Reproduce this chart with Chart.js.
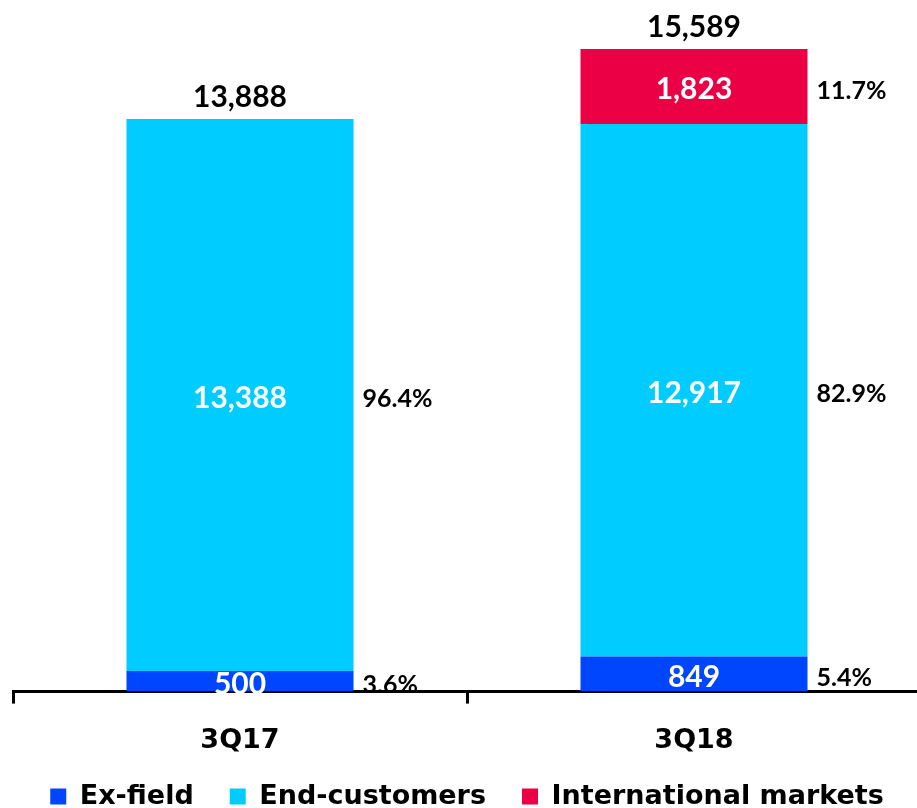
<!DOCTYPE html>
<html>
<head>
<meta charset="utf-8">
<script src="https://cdn.jsdelivr.net/npm/chart.js@4"></script>
<style>
  html, body { margin: 0; padding: 0; background: #fff; overflow: hidden; }
  #wrap { width: 925px; height: 808px; }
</style>
</head>
<body>
<div id="wrap"><canvas id="salesChart"></canvas></div>
<script>
const quarters = ['3Q17', '3Q18'];
const exField = [500, 849];
const endCustomers = [13388, 12917];
const intlMarkets = [0, 1823];

const NUM_FONT = 'Lato, "DejaVu Sans", sans-serif';
const TXT_FONT = '"DejaVu Sans", sans-serif';

function fmt(n) {
    return n.toLocaleString('en-US');
}

// подписи: значения внутри, проценты справа, сумма сверху
const labelsPlugin = {
    id: 'barLabels',
    afterDatasetsDraw(chart) {
        const ctx = chart.ctx;
        const sets = chart.data.datasets;
        ctx.save();
        ctx.textBaseline = 'middle';
        quarters.forEach((q, i) => {
            let total = 0;
            sets.forEach(ds => total += ds.data[i]);
            let topY = null, cx = 0;
            sets.forEach((ds, d) => {
                const v = ds.data[i];
                if (!v) return;
                const bar = chart.getDatasetMeta(d).data[i];
                const midY = (bar.y + bar.base) / 2;
                cx = bar.x;
                topY = topY === null ? bar.y : Math.min(topY, bar.y);
                ctx.fillStyle = '#fff';
                ctx.textAlign = 'center';
                ctx.font = 'bold 30px ' + NUM_FONT;
                ctx.fillText(fmt(v), bar.x, midY + 3);
                ctx.fillStyle = '#000';
                ctx.textAlign = 'left';
                ctx.font = 'bold 25px ' + NUM_FONT;
                ctx.fillText((v / total * 100).toFixed(1) + '%', bar.x + bar.width / 2 + 9, midY + 4);
            });
            ctx.fillStyle = '#000';
            ctx.textAlign = 'center';
            ctx.font = 'bold 30px ' + NUM_FONT;
            ctx.fillText(fmt(total), cx, topY - 22);
        });
        ctx.restore();
    }
};

// легенда выше, без изменения отступов между пунктами
const legendShift = {
    id: 'legendShift',
    afterInit(chart) {
        const lg = chart.legend;
        const orig = lg.draw.bind(lg);
        lg.draw = function () {
            chart.ctx.save();
            chart.ctx.translate(0, -31);
            orig();
            chart.ctx.restore();
        };
    }
};

const ctx = document.getElementById('salesChart').getContext('2d');
new Chart(ctx, {
    type: 'bar',
    data: {
        labels: quarters,
        datasets: [
            { label: 'Ex-field', data: exField, backgroundColor: '#0046ff' },
            { label: 'End-customers', data: endCustomers, backgroundColor: '#00ccff' },
            { label: 'International markets', data: intlMarkets, backgroundColor: '#eb0045' }
        ]
    },
    options: {
        responsive: true,
        maintainAspectRatio: false,
        animation: false,
        layout: { padding: { left: 13, right: 4, top: 0, bottom: -43 } },
        datasets: { bar: { categoryPercentage: 1, barPercentage: 0.5 } },
        scales: {
            x: {
                stacked: true,
                z: 1,
                border: { display: true, color: '#000', width: 3 },
                grid: { display: true, offset: true, drawOnChartArea: false, drawTicks: true, tickLength: 12, tickWidth: 3, tickColor: '#000' },
                ticks: { color: '#000', padding: 21, font: { family: TXT_FONT, size: 27, weight: 'bold' } }
            },
            y: {
                stacked: true,
                display: false,
                min: 0,
                max: 16776
            }
        },
        plugins: {
            legend: {
                position: 'bottom',
                labels: {
                    color: '#000',
                    boxWidth: 16,
                    boxHeight: 16,
                    padding: 36,
                    font: { family: TXT_FONT, size: 27, weight: 'bold' }
                }
            },
            tooltip: { enabled: false }
        }
    },
    plugins: [labelsPlugin, legendShift]
});
</script>
</body>
</html>
